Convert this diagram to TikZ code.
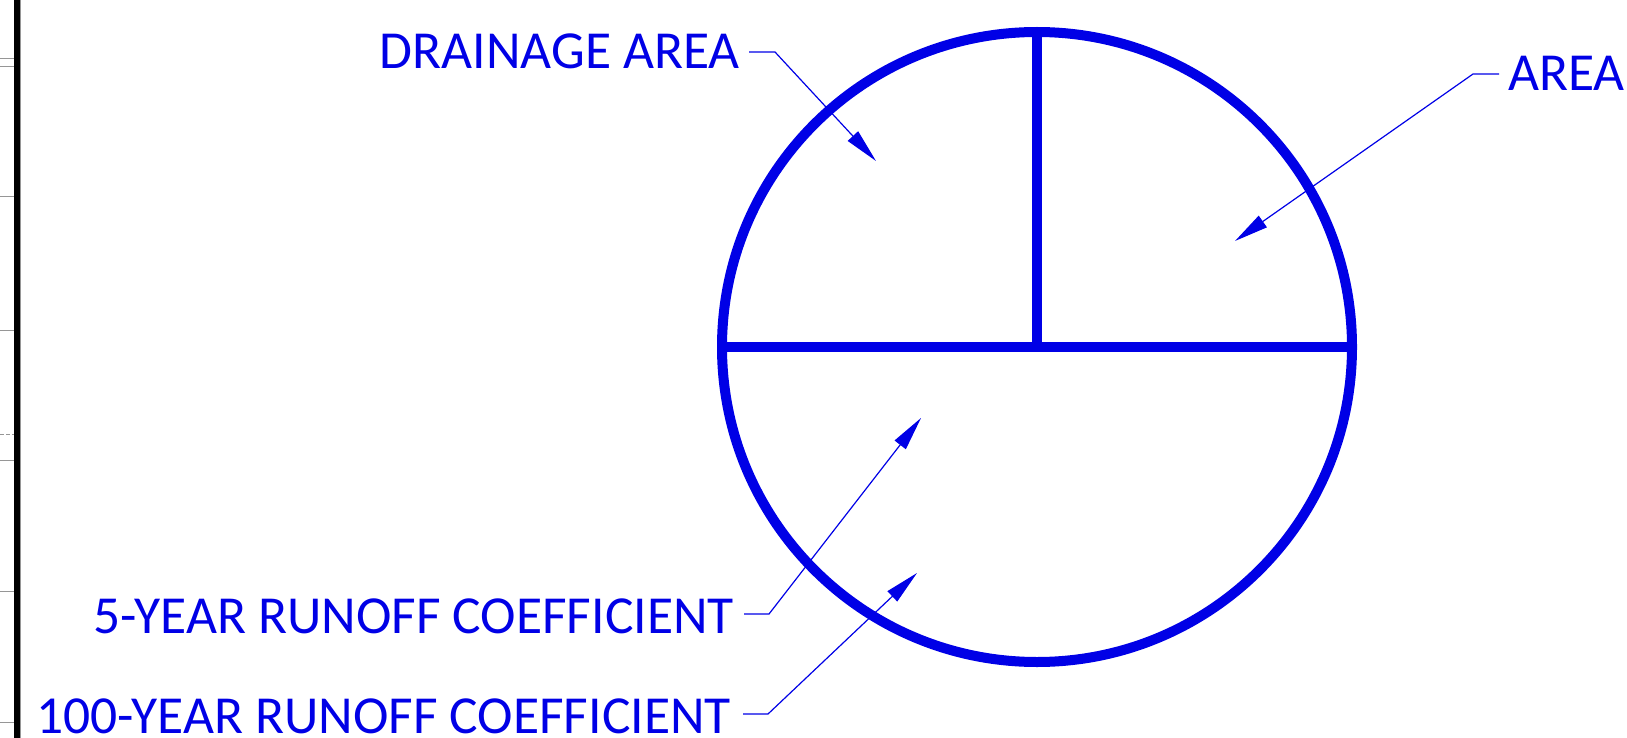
\documentclass[tikz,border=0pt]{standalone}
\usepackage{fontspec}
\setmainfont{Carlito}
\usetikzlibrary{arrows.meta}
\definecolor{cadblue}{RGB}{0,0,230}
\definecolor{edgegray}{RGB}{150,150,150}
\tikzset{
  heavy/.style={draw=cadblue, line width=10pt},
  leader/.style={draw=cadblue, line width=1.2pt, -{Triangle[length=34pt,width=14pt]}},
  lbl/.style={text=cadblue, inner sep=0pt, font=\fontsize{53.5}{60}\selectfont},
  edgeline/.style={draw=edgegray, line width=1pt},
}
\begin{document}
\begin{tikzpicture}[x=1pt,y=-1pt]
\useasboundingbox (0,0) rectangle (1627,738);
% left frame edge
\foreach \yy in {59,67,197,330,460,591,722}{
  \draw[edgeline] (0,\yy) -- (14,\yy);
}
\draw[edgeline, dashed, dash pattern=on 4pt off 2pt] (0,434) -- (14,434);
\fill[black] (14,0) rectangle (20,738);
\draw[edgegray, line width=1pt] (20.5,0) -- (20.5,738);
% circle and dividers
\coordinate (c) at (1037,347);
\coordinate (cl) at (722,347);
\coordinate (cr) at (1352,347);
\coordinate (ct) at (1037,32);
\draw[heavy] (c) circle[radius=315];
\draw[heavy] (cl) -- (cr);
\draw[heavy] (ct) -- (c);
% labels
\node[lbl, anchor=base east] (da) at (740,69) {DRAINAGE AREA};
\node[lbl, anchor=base west] (ar) at (1508,91) {AREA};
\node[lbl, anchor=base east] (y5) at (734,633) {5-YEAR RUNOFF COEFFICIENT};
\node[lbl, anchor=base east] (y100) at (731,733) {100-YEAR RUNOFF COEFFICIENT};
% leader points
\coordinate (daS) at (749,52);
\coordinate (daB) at (775,52);
\coordinate (daT) at (876,161);
\coordinate (arS) at (1499,74);
\coordinate (arB) at (1473,74);
\coordinate (arT) at (1235,241);
\coordinate (y5S) at (744,614);
\coordinate (y5B) at (769,614);
\coordinate (y5T) at (921,418);
\coordinate (y100S) at (743,714);
\coordinate (y100B) at (768,714);
\coordinate (y100T) at (917,573);
\draw[leader] (daS) -- (daB) -- (daT);
\draw[leader] (arS) -- (arB) -- (arT);
\draw[leader] (y5S) -- (y5B) -- (y5T);
\draw[leader] (y100S) -- (y100B) -- (y100T);
\end{tikzpicture}
\end{document}
